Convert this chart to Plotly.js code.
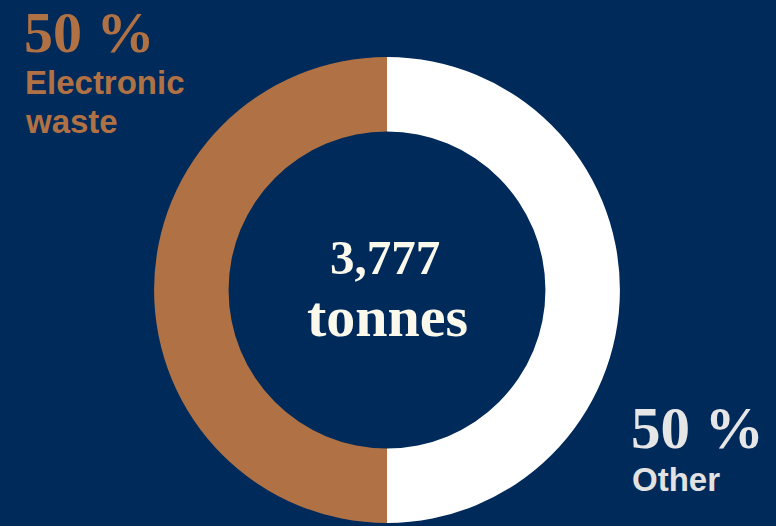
<!DOCTYPE html>
<html><head><meta charset="utf-8">
<script src="https://cdn.plot.ly/plotly-3.0.1.min.js"></script>
<style>html,body{margin:0;padding:0;background:#002a5a;}</style>
</head><body><div id="chart" style="width:776px;height:526px;"></div>
<script>
const categories = ["Other", "Electronic waste"];
const shares = [50, 50];
const colors = ["#ffffff", "#b07244"];
const totalLabel = "3,777";
const unitLabel = "tonnes";

const W = 776, H = 526;
const px = x => x / W, py = y => 1 - y / H;

const serif = "Liberation Serif";
const sans = "Liberation Sans";

const data = [{
  type: "pie",
  labels: categories,
  values: shares,
  marker: {colors: colors, line: {width: 0}},
  hole: 0.68,
  sort: false,
  direction: "clockwise",
  rotation: 0,
  textinfo: "none",
  hoverinfo: "label+percent",
  domain: {x: [px(154), px(620)], y: [py(523), py(57)]}
}];

const ann = [
  {text: shares[1] + " %", x: px(24), y: py(0), yanchor: "top", font: {family: serif, size: 58, color: "#b07244", weight: 700}},
  {text: "Electronic", x: px(25), y: py(83), font: {family: sans, size: 33, color: "#b07244", weight: 700}},
  {text: "waste", x: px(25), y: py(122), font: {family: sans, size: 33, color: "#b07244", weight: 700}},
  {text: shares[0] + " %", x: px(631), y: py(427.5), font: {family: serif, size: 59, color: "#e6e6e6", weight: 700}},
  {text: categories[0], x: px(632), y: py(479.5), font: {family: sans, size: 33, color: "#e2e2e2", weight: 700}},
  {text: totalLabel, x: px(385), y: py(257), xanchor: "center", font: {family: serif, size: 49, color: "#fbf8ec", weight: 700}},
  {text: unitLabel, x: px(387), y: py(316), xanchor: "center", font: {family: serif, size: 58, color: "#fbf8ec", weight: 700}}
].map(a => Object.assign({xref: "paper", yref: "paper", xanchor: "left", yanchor: "middle", showarrow: false, borderpad: 0, borderwidth: 0}, a));

const layout = {
  width: W, height: H,
  margin: {l: 0, r: 0, t: 0, b: 0},
  paper_bgcolor: "#002a5a",
  plot_bgcolor: "#002a5a",
  showlegend: false,
  annotations: ann
};
Plotly.newPlot("chart", data, layout, {displayModeBar: false, staticPlot: true});
</script></body></html>
